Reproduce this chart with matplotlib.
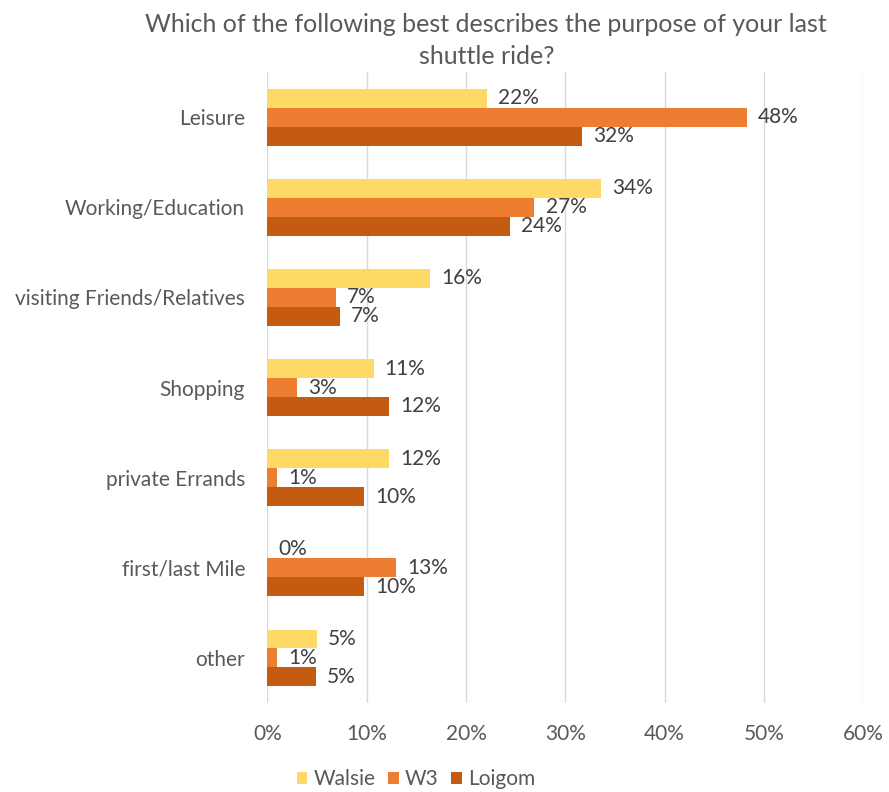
import numpy as np
import matplotlib.pyplot as plt
from matplotlib.ticker import FuncFormatter

plt.rcParams['font.family'] = ['Lato', 'DejaVu Sans']

categories = ["Leisure", "Working/Education", "visiting Friends/Relatives",
              "Shopping", "private Errands", "first/last Mile", "other"]
walsie = [22.1, 33.6, 16.4, 10.7, 12.3, 0.0, 5.0]
w3 = [48.3, 26.9, 6.9, 3.0, 0.95, 13.0, 0.95]
loigom = [31.7, 24.4, 7.3, 12.25, 9.7, 9.7, 4.9]

series = [("Walsie", walsie, "#FFD966"),
          ("W3", w3, "#ED7D31"),
          ("Loigom", loigom, "#C55A11")]

fig = plt.figure(figsize=(8.89, 7.92), dpi=100)
ax = fig.add_axes([0.3007, 0.1124, 0.6703, 0.7966])

y = np.arange(len(categories))
h = 0.21
for i, (name, vals, col) in enumerate(series):
    pos = y + (i - 1) * h
    ax.barh(pos, vals, height=h, color=col, label=name, zorder=3)
    for p, v in zip(pos, vals):
        ax.annotate(f"{v:.0f}%", (v, p), xytext=(8, 0), textcoords="offset points",
                    ha="left", va="center", fontsize=15, color="#404040")

ax.set_xlim(0, 60)
ax.set_ylim(len(categories) - 0.5, -0.5)
ax.set_xticks(np.arange(0, 61, 10))
ax.xaxis.set_major_formatter(FuncFormatter(lambda v, _: f"{v:.0f}%"))
ax.set_yticks(y)
ax.set_yticklabels(categories)
ax.tick_params(axis="both", length=0, labelsize=15, labelcolor="#595959")
ax.tick_params(axis="x", pad=15)
ax.tick_params(axis="y", pad=16)
ax.grid(axis="x", color="#D9D9D9", linewidth=1.0, zorder=0)
for s in ax.spines.values():
    s.set_visible(False)

fig.suptitle("Which of the following best describes the purpose of your last\nshuttle ride?",
             x=0.547, y=0.983, fontsize=18, color="#595959", linespacing=1.45)

fig.legend(loc="lower center", bbox_to_anchor=(0.468, -0.02), ncol=3, frameon=False,
           fontsize=15, handlelength=0.5, handleheight=0.5, handletextpad=0.3,
           columnspacing=0.6, labelcolor="#595959")

fig.savefig("out.png", dpi=100)
